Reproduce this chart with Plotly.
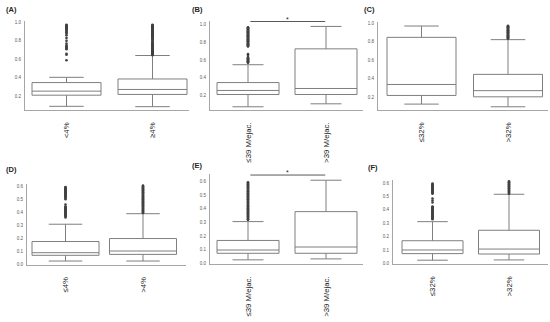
import plotly.graph_objects as go

W, H = 550, 322

# ---------------- data ----------------
panels = ["A", "B", "C", "D", "E", "F"]
cats_A = ["<4%", "≥4%"]
cats_B = ["≤39 M/ejac.", ">39 M/ejac."]
cats_C = ["≤32%", ">32%"]
cats_D = ["≤4%", ">4%"]
cats_E = ["≤39 M/ejac.", ">39 M/ejac."]
cats_F = ["≤32%", ">32%"]

# box statistics per group: [lowerfence, q1, median, q3, upperfence]
stats_A = [[0.089, 0.210, 0.254, 0.347, 0.404], [0.085, 0.218, 0.272, 0.386, 0.641]]
stats_B = [[0.078, 0.215, 0.260, 0.348, 0.547], [0.111, 0.215, 0.282, 0.724, 0.974]]
stats_C = [[0.124, 0.218, 0.337, 0.849, 0.972], [0.095, 0.203, 0.270, 0.447, 0.824]]
stats_D = [[0.025, 0.069, 0.089, 0.175, 0.308], [0.025, 0.076, 0.102, 0.198, 0.389]]
stats_E = [[0.027, 0.075, 0.099, 0.169, 0.307], [0.034, 0.075, 0.121, 0.380, 0.610]]
stats_F = [[0.025, 0.074, 0.101, 0.170, 0.312], [0.027, 0.071, 0.108, 0.248, 0.516]]

# outliers per group
out_A = [
    [0.975, 0.97, 0.965, 0.96, 0.955, 0.95, 0.945, 0.94, 0.935, 0.93, 0.92, 0.91, 0.90,
     0.89, 0.88, 0.86, 0.83, 0.80, 0.77, 0.75, 0.74, 0.73, 0.72, 0.71, 0.66, 0.65, 0.59],
    [0.975, 0.97, 0.965, 0.96, 0.955, 0.95, 0.945, 0.94, 0.935, 0.93, 0.925, 0.92, 0.915,
     0.91, 0.905, 0.90, 0.895, 0.89, 0.885, 0.88, 0.875, 0.87, 0.865, 0.86, 0.855, 0.85,
     0.845, 0.84, 0.835, 0.83, 0.825, 0.82, 0.81, 0.80, 0.79, 0.78, 0.775, 0.77, 0.765,
     0.76, 0.755, 0.75, 0.745, 0.74, 0.735, 0.73, 0.725, 0.72, 0.715, 0.71, 0.705, 0.70,
     0.695, 0.69, 0.685, 0.68, 0.675, 0.67, 0.665, 0.66, 0.655, 0.65, 0.645],
]
out_B = [
    [0.965, 0.96, 0.955, 0.95, 0.945, 0.94, 0.935, 0.93, 0.925, 0.92, 0.915, 0.91, 0.905,
     0.90, 0.895, 0.89, 0.885, 0.88, 0.875, 0.87, 0.865, 0.86, 0.855, 0.85, 0.845, 0.84,
     0.835, 0.83, 0.825, 0.82, 0.815, 0.81, 0.805, 0.80, 0.795, 0.79, 0.785, 0.78, 0.775,
     0.77, 0.765, 0.76, 0.755, 0.75, 0.665, 0.645, 0.625, 0.62, 0.615, 0.61, 0.605, 0.60,
     0.595, 0.59, 0.585, 0.58, 0.575, 0.57],
    [],
]
out_C = [
    [],
    [0.975, 0.97, 0.965, 0.96, 0.955, 0.95, 0.945, 0.94, 0.935, 0.93, 0.925, 0.92, 0.915,
     0.91, 0.905, 0.90, 0.895, 0.89, 0.885, 0.88, 0.875, 0.87, 0.865, 0.86, 0.855, 0.85,
     0.845, 0.84, 0.835],
]
out_D = [
    [0.595, 0.59, 0.585, 0.58, 0.575, 0.57, 0.565, 0.56, 0.555, 0.55, 0.545, 0.54, 0.535,
     0.53, 0.525, 0.52, 0.515, 0.51, 0.50, 0.46, 0.445, 0.44, 0.435, 0.43, 0.425, 0.42,
     0.415, 0.41, 0.405, 0.40, 0.395, 0.39, 0.385, 0.38, 0.375, 0.37, 0.36],
    [0.605, 0.60, 0.595, 0.59, 0.585, 0.58, 0.575, 0.57, 0.565, 0.56, 0.555, 0.55, 0.545,
     0.54, 0.535, 0.53, 0.525, 0.52, 0.515, 0.51, 0.505, 0.50, 0.495, 0.49, 0.485, 0.48,
     0.475, 0.47, 0.465, 0.46, 0.455, 0.45, 0.445, 0.44, 0.435, 0.43, 0.425, 0.42, 0.415,
     0.41, 0.405, 0.40, 0.395],
]
out_E = [
    [0.595, 0.59, 0.585, 0.58, 0.575, 0.57, 0.565, 0.56, 0.555, 0.55, 0.545, 0.54, 0.535,
     0.53, 0.525, 0.52, 0.515, 0.51, 0.505, 0.50, 0.495, 0.49, 0.485, 0.48, 0.475, 0.47,
     0.465, 0.46, 0.455, 0.45, 0.445, 0.44, 0.435, 0.43, 0.425, 0.42, 0.415, 0.41, 0.405,
     0.40, 0.395, 0.39, 0.385, 0.38, 0.375, 0.37, 0.365, 0.36, 0.355, 0.35, 0.345, 0.34,
     0.335, 0.33, 0.325, 0.32],
    [],
]
out_F = [
    [0.595, 0.59, 0.585, 0.58, 0.575, 0.57, 0.565, 0.56, 0.555, 0.55, 0.545, 0.54, 0.535,
     0.53, 0.525, 0.52, 0.485, 0.47, 0.455, 0.425, 0.42, 0.415, 0.41, 0.405, 0.40, 0.395,
     0.39, 0.385, 0.38, 0.375, 0.37, 0.365, 0.36, 0.355, 0.35, 0.345, 0.34, 0.335, 0.33],
    [0.615, 0.61, 0.605, 0.60, 0.595, 0.59, 0.585, 0.58, 0.575, 0.57, 0.565, 0.56, 0.555,
     0.55, 0.545, 0.54, 0.535, 0.53, 0.525, 0.52],
]

yticks_top = [0.2, 0.4, 0.6, 0.8, 1.0]
yticks_bot = [0.0, 0.1, 0.2, 0.3, 0.4, 0.5, 0.6]

# significance markers: panel -> y value of bar
signif = {"B": 1.029, "E": 0.648}

# ---------------- layout geometry (pixels) ----------------
geom = {
    "A": dict(px=(25, 189, 19.8, 110.3), yr=[0.046, 1.02], c=(66.5, 152.5), w=69, lab=(4, 9)),
    "B": dict(px=(210, 363, 19.7, 110.3), yr=[0.039, 1.04], c=(248, 326), w=62, lab=(190, 9)),
    "C": dict(px=(378, 548, 20.8, 110.3), yr=[0.057, 1.02], c=(421.5, 508), w=69, lab=(362, 9)),
    "D": dict(px=(27, 186, 184.4, 266.4), yr=[-0.005, 0.62], c=(65.5, 143), w=67, lab=(4, 170)),
    "E": dict(px=(210, 363, 174.7, 265.7), yr=[-0.005, 0.655], c=(248, 326), w=62, lab=(190, 166)),
    "F": dict(px=(393, 548, 181.0, 265.7), yr=[-0.005, 0.62], c=(432.5, 509), w=61, lab=(366, 168)),
}

cats = dict(A=cats_A, B=cats_B, C=cats_C, D=cats_D, E=cats_E, F=cats_F)
stats = dict(A=stats_A, B=stats_B, C=stats_C, D=stats_D, E=stats_E, F=stats_F)
outs = dict(A=out_A, B=out_B, C=out_C, D=out_D, E=out_E, F=out_F)

BOX_LINE = "#7f7f7f"
AXIS_LINE = "#a6a6a6"
OUT_COLOR = "#404040"
FONT = "Liberation Sans, Arial"

fig = go.Figure()
layout = dict(width=W, height=H, margin=dict(l=0, r=0, t=0, b=0),
              paper_bgcolor="white", plot_bgcolor="white", showlegend=False,
              annotations=[], shapes=[])

for i, p in enumerate(panels):
    n = "" if i == 0 else str(i + 1)
    g = geom[p]
    L, R, T, B = g["px"]
    c0, c1 = g["c"]
    s = c1 - c0
    xr = [(L - c0) / s, (R - c0) / s]
    bw = g["w"] / s
    for j in range(2):
        lf, q1, med, q3, uf = stats[p][j]
        fig.add_trace(go.Box(
            x=[j], q1=[q1], median=[med], q3=[q3], lowerfence=[lf], upperfence=[uf],
            width=bw, whiskerwidth=0.5, boxpoints=False,
            line=dict(color=BOX_LINE, width=1), fillcolor="rgba(0,0,0,0)",
            xaxis="x" + n, yaxis="y" + n, hoverinfo="skip"))
        if outs[p][j]:
            fig.add_trace(go.Scatter(
                x=[j] * len(outs[p][j]), y=outs[p][j], mode="markers",
                marker=dict(size=2.6, color=OUT_COLOR),
                xaxis="x" + n, yaxis="y" + n, hoverinfo="skip"))
    top_row = p in ("A", "B", "C")
    layout["xaxis" + n] = dict(
        domain=[L / W, R / W], range=xr, anchor="y" + n,
        showgrid=False, zeroline=False, showline=True, linecolor=AXIS_LINE, linewidth=1,
        tickvals=[0, 1], ticktext=cats[p], tickangle=-90, ticks="",
        ticklabelstandoff=8,
        tickfont=dict(family=FONT, size=7.8, color="#1a1a1a"))
    layout["yaxis" + n] = dict(
        domain=[1 - B / H, 1 - T / H], range=g["yr"], anchor="x" + n,
        showgrid=False, zeroline=False, showline=True, linecolor=AXIS_LINE, linewidth=1,
        tickvals=yticks_top if top_row else yticks_bot, tickformat=".1f", ticks="",
        ticklabelstandoff=2,
        tickfont=dict(family=FONT, size=4.5, color="#595959"))
    lx, ly = g["lab"]
    layout["annotations"].append(dict(
        text="<b>(%s)</b>" % p, xref="paper", yref="paper",
        x=lx / W, y=1 - ly / H, xanchor="left", yanchor="middle",
        showarrow=False, font=dict(family=FONT, size=7.5, color="#262626")))
    if p in signif:
        yv = signif[p]
        layout["shapes"].append(dict(
            type="line", xref="x" + n, yref="y" + n, x0=0.03, x1=0.99, y0=yv, y1=yv,
            line=dict(color="#595959", width=1)))
        layout["annotations"].append(dict(
            text="*", xref="x" + n, yref="y" + n, x=0.51, y=yv, yanchor="bottom",
            yshift=-3, showarrow=False,
            font=dict(family=FONT, size=7, color="#262626")))

fig.update_layout(**layout)
fig.write_html("out.html", config={"displayModeBar": False},
               post_script="document.body.style.margin='0';")
